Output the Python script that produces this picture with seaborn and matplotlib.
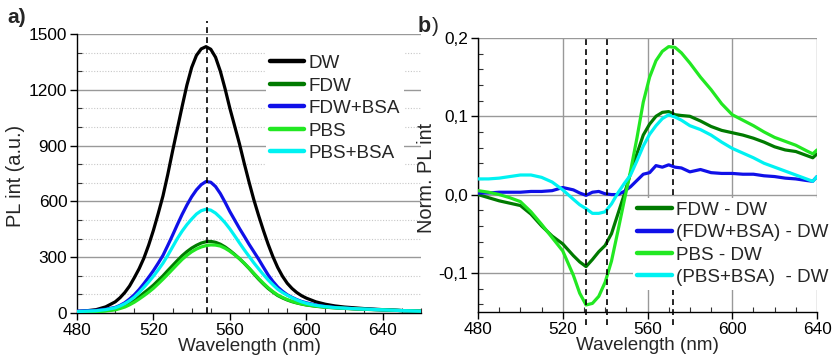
import numpy as np
import pandas as pd
import matplotlib
matplotlib.use("Agg")
import matplotlib.pyplot as plt
import seaborn as sns
from matplotlib.ticker import MultipleLocator, FuncFormatter

# ---------------- data: panel a ----------------
wl_a = [480, 485, 490, 495,
        500, 502.5, 505, 507.5, 510, 512.5, 515, 517.5, 520, 522.5,
        525, 527.5, 530, 532.5, 535, 537.5, 540, 542.5, 545, 547.5,
        550, 552.5, 555, 557.5, 560, 562.5, 565, 567.5, 570, 572.5,
        575, 577.5, 580, 582.5, 585, 587.5, 590, 592.5, 595, 597.5, 600,
        605, 610, 615, 620, 630, 640, 650, 660]
dw = [8, 12, 18, 33,
      60, 82, 110, 145, 190, 238, 295, 365, 445, 535,
      630, 745, 870, 990, 1110, 1225, 1320, 1385, 1420, 1432,
      1418, 1375, 1300, 1205, 1100, 1005, 910, 805, 705, 610,
      525, 445, 370, 303, 245, 198, 160, 132, 110, 93, 80,
      60, 47, 38, 32, 24, 18, 13, 9]
fdw = [4, 6, 8, 13,
       20, 28, 38, 52, 68, 87, 108, 128, 150, 175,
       200, 228, 255, 282, 308, 330, 349, 364, 376, 383,
       385, 380, 370, 355, 336, 315, 292, 267, 240, 211,
       182, 156, 132, 112, 94, 81, 70, 61, 54, 48, 43,
       36, 31, 28, 25, 20, 17, 13, 10]
fdw_bsa = [10, 12, 14, 20,
           30, 41, 55, 75, 98, 126, 158, 192, 228, 268,
           310, 363, 418, 475, 530, 580, 625, 662, 690, 707,
           703, 680, 642, 595, 545, 500, 455, 413, 370, 330,
           290, 247, 205, 170, 140, 117, 98, 84, 72, 62, 55,
           43, 35, 30, 26, 21, 17, 13, 9]
pbs = [3, 5, 7, 11,
       17, 24, 32, 44, 58, 75, 93, 112, 133, 157,
       182, 208, 235, 262, 288, 310, 329, 344, 355, 362,
       366, 365, 360, 348, 332, 313, 292, 268, 242, 214,
       186, 160, 136, 115, 97, 84, 72, 63, 55, 49, 44,
       37, 32, 28, 25, 20, 17, 13, 10]
pbs_bsa = [8, 10, 12, 18,
           28, 38, 50, 66, 85, 110, 138, 167, 198, 232,
           268, 310, 355, 400, 440, 475, 505, 532, 550, 558,
           553, 537, 513, 485, 452, 415, 377, 340, 305, 270,
           238, 207, 178, 152, 128, 110, 95, 82, 70, 60, 52,
           41, 34, 29, 26, 21, 17, 13, 10]
labels_a = ["DW", "FDW", "FDW+BSA", "PBS", "PBS+BSA"]
peak_a = 548

# ---------------- data: panel b ----------------
wl_b = [480, 485, 490, 495, 500, 505, 510, 515, 520, 525, 528, 531, 534, 537, 540,
        543, 546, 549, 552, 555, 558, 561, 564, 567, 570, 573, 576, 580, 585, 590,
        595, 600, 605, 610, 615, 620, 625, 630, 635, 638, 640]
d_fdw = [0.000, -0.004, -0.008, -0.011, -0.014, -0.025, -0.040, -0.053, -0.063, -0.078,
         -0.086, -0.092, -0.083, -0.073, -0.065, -0.050, -0.025, 0.000, 0.027, 0.052,
         0.076, 0.090, 0.100, 0.105, 0.106, 0.102, 0.101, 0.100, 0.094, 0.087,
         0.082, 0.079, 0.076, 0.072, 0.067, 0.061, 0.057, 0.055, 0.050, 0.047, 0.052]
d_fdw_bsa = [0.002, 0.002, 0.003, 0.003, 0.003, 0.004, 0.004, 0.005, 0.009, 0.006,
             0.002, -0.001, 0.003, 0.004, 0.001, 0.000, 0.000, 0.004, 0.010, 0.018,
             0.026, 0.028, 0.037, 0.035, 0.038, 0.035, 0.034, 0.029, 0.032, 0.028,
             0.027, 0.027, 0.026, 0.026, 0.024, 0.023, 0.021, 0.020, 0.018, 0.017, 0.023]
d_pbs = [0.005, 0.003, 0.000, -0.004, -0.009, -0.022, -0.038, -0.055, -0.072, -0.103,
         -0.126, -0.141, -0.139, -0.130, -0.112, -0.085, -0.047, -0.008, 0.030, 0.072,
         0.118, 0.150, 0.171, 0.183, 0.189, 0.188, 0.181, 0.168, 0.150, 0.134,
         0.116, 0.102, 0.095, 0.088, 0.080, 0.073, 0.068, 0.063, 0.056, 0.052, 0.057]
d_pbs_bsa = [0.020, 0.020, 0.021, 0.023, 0.025, 0.025, 0.022, 0.016, 0.006, -0.006,
             -0.013, -0.018, -0.024, -0.024, -0.022, -0.012, 0.002, 0.014, 0.025, 0.043,
             0.062, 0.077, 0.088, 0.097, 0.102, 0.099, 0.095, 0.088, 0.083, 0.076,
             0.067, 0.059, 0.053, 0.047, 0.040, 0.035, 0.030, 0.025, 0.020, 0.017, 0.023]
labels_b = ["FDW - DW", "(FDW+BSA) - DW", "PBS - DW", "(PBS+BSA)  - DW"]
marks_b = [531, 541, 572]

colors_a = ["#000000", "#007A00", "#1010E8", "#22E822", "#00F2F2"]
colors_b = colors_a[1:]

for s in (dw, fdw, fdw_bsa, pbs, pbs_bsa):
    assert len(s) == len(wl_a), len(s)
for s in (d_fdw, d_fdw_bsa, d_pbs, d_pbs_bsa):
    assert len(s) == len(wl_b), len(s)

# ---------------- style ----------------
sns.set_theme(style="white")
plt.rcParams["font.family"] = ["Liberation Sans", "DejaVu Sans"]
plt.rcParams["axes.unicode_minus"] = False

W, H = 834, 360
fig = plt.figure(figsize=(W / 100, H / 100), dpi=100)

def rect(l, t, r, b):
    return [l / W, 1 - b / H, (r - l) / W, (b - t) / H]

ax1 = fig.add_axes(rect(77, 34, 421, 313))
ax2 = fig.add_axes(rect(478, 38, 817, 312))

LW = 2.3
TICK_FS = 12.4
LAB_FS = 13.6
LEG_FS = 13.6

def style_axes(ax):
    for s in ["top", "right"]:
        ax.spines[s].set_visible(False)
    for s in ["left", "bottom"]:
        ax.spines[s].set_color("black")
        ax.spines[s].set_linewidth(1.0)
    ax.tick_params(which="major", direction="out", length=5, width=1.0,
                   labelsize=TICK_FS, pad=2.0, colors="black",
                   bottom=True, left=True)
    ax.tick_params(which="minor", direction="in", length=3.5, width=0.8,
                   bottom=True, left=True, colors="#333333")
    ax.set_facecolor("white")

def style_legend(leg):
    fr = leg.get_frame()
    fr.set_edgecolor("none")
    fr.set_facecolor("white")
    fr.set_alpha(1)
    fr.set_boxstyle("square", pad=0)
    for h in leg.legend_handles:
        h.set_linewidth(3.2)

# ---------------- panel a ----------------
df_a = pd.DataFrame({"wl": wl_a * 5,
                     "val": dw + fdw + fdw_bsa + pbs + pbs_bsa,
                     "sample": sum([[l] * len(wl_a) for l in labels_a], [])})
sns.lineplot(data=df_a, x="wl", y="val", hue="sample", palette=colors_a,
             hue_order=labels_a, linewidth=LW, ax=ax1, zorder=3)
ax1.set_xlim(480, 660)
ax1.set_ylim(0, 1500)
ax1.xaxis.set_major_locator(MultipleLocator(40))
ax1.xaxis.set_minor_locator(MultipleLocator(10))
ax1.yaxis.set_major_locator(MultipleLocator(300))
ax1.yaxis.set_minor_locator(MultipleLocator(100))
ax1.grid(True, which="major", axis="y", color="#999999", linewidth=1.0, zorder=0)
ax1.grid(True, which="minor", axis="y", color="#C8C8C8", linewidth=0.8,
         linestyle=(0, (1, 1.5)), zorder=0)
ax1.grid(False, axis="x", which="both")
ax1.set_axisbelow(True)
style_axes(ax1)
ax1.axvline(peak_a, ymin=0, ymax=1.045, color="black", linestyle=(0, (3.5, 2.5)),
            linewidth=1.2, clip_on=False, zorder=4)
ax1.set_xlabel("Wavelength (nm)", fontsize=LAB_FS, labelpad=0)
ax1.set_ylabel("PL int (a.u.)", fontsize=LAB_FS + 0.8)
ax1.yaxis.set_label_coords(-0.15, 0.49)
leg1 = ax1.legend(loc="upper left", bbox_to_anchor=(266 / W, 1 - 51 / H),
                  bbox_transform=fig.transFigure, frameon=True, fontsize=LEG_FS,
                  handlelength=1.8, handletextpad=0.25, labelspacing=0.28,
                  borderpad=0.2, borderaxespad=0)
style_legend(leg1)

# ---------------- panel b ----------------
df_b = pd.DataFrame({"wl": wl_b * 4,
                     "val": d_fdw + d_fdw_bsa + d_pbs + d_pbs_bsa,
                     "sample": sum([[l] * len(wl_b) for l in labels_b], [])})
sns.lineplot(data=df_b, x="wl", y="val", hue="sample", palette=colors_b,
             hue_order=labels_b, linewidth=LW, ax=ax2, zorder=3)
ax2.set_xlim(480, 640)
ax2.set_ylim(-0.15, 0.2)
ax2.xaxis.set_major_locator(MultipleLocator(40))
ax2.xaxis.set_minor_locator(MultipleLocator(10))
ax2.yaxis.set_major_locator(MultipleLocator(0.1))
ax2.yaxis.set_minor_locator(MultipleLocator(0.02))
ax2.yaxis.set_major_formatter(FuncFormatter(
    lambda v, p: ("%.1f" % (round(v, 3) + 0.0)).replace(".", ",")))
ax2.grid(True, which="major", color="#999999", linewidth=1.0, zorder=0)
ax2.set_axisbelow(True)
style_axes(ax2)
for m in marks_b:
    ax2.axvline(m, ymin=-0.047, ymax=1.0, color="black", linestyle=(0, (3.5, 2.5)),
                linewidth=1.2, clip_on=False, zorder=4)
ax2.set_xlabel("Wavelength (nm)", fontsize=LAB_FS, labelpad=0)
ax2.set_ylabel("Norm. PL int", fontsize=LAB_FS + 0.8)
ax2.yaxis.set_label_coords(-0.124, 0.49)
leg2 = ax2.legend(loc="upper left", bbox_to_anchor=(633 / W, 1 - 198 / H),
                  bbox_transform=fig.transFigure, frameon=True, fontsize=LEG_FS,
                  handlelength=1.85, handletextpad=0.25, labelspacing=0.27,
                  borderpad=0.2, borderaxespad=0)
style_legend(leg2)

# ---------------- panel labels ----------------
fig.text(7 / W, 1 - 23.3 / H, "a)", fontsize=15, fontweight="bold",
         va="baseline", ha="left")
fig.text(418 / W, 1 - 31.5 / H, "b", fontsize=15.5, fontweight="bold",
         va="baseline", ha="left")
fig.text(432 / W, 1 - 31.5 / H, ")", fontsize=15, va="baseline", ha="left")

fig.savefig("out.png", dpi=100, facecolor="white")
